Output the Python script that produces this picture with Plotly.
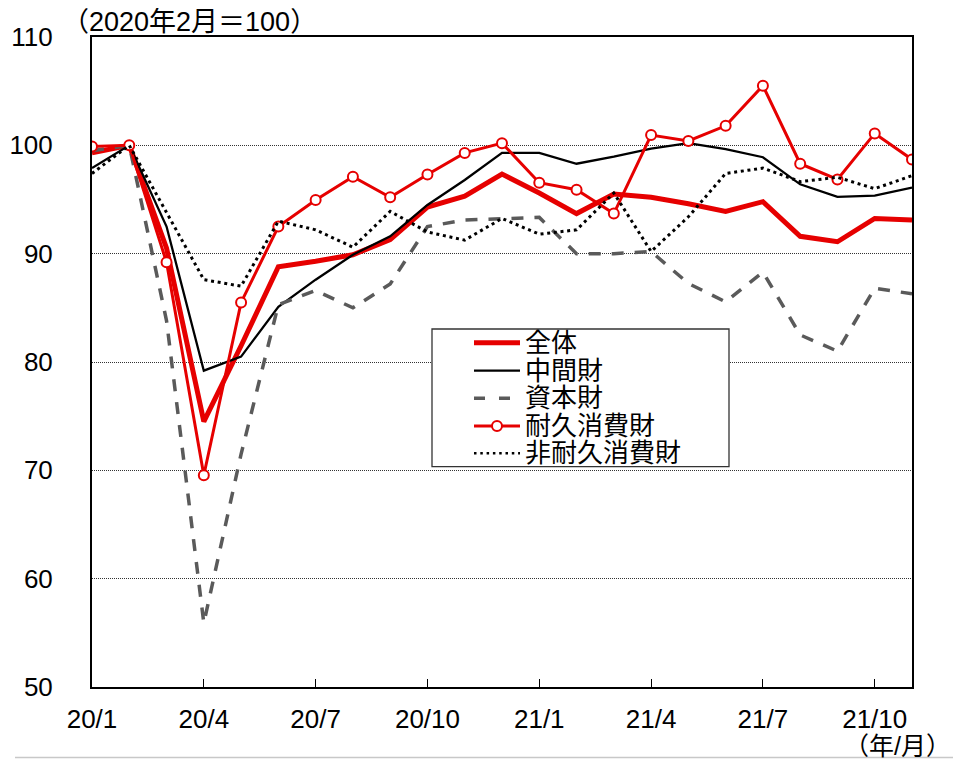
import plotly.graph_objects as go

months = ["20/1","20/2","20/3","20/4","20/5","20/6","20/7","20/8","20/9","20/10","20/11","20/12",
          "21/1","21/2","21/3","21/4","21/5","21/6","21/7","21/8","21/9","21/10","21/11"]
tick_labels = ["20/1","20/4","20/7","20/10","21/1","21/4","21/7","21/10"]

total = [99.3, 100.0, 90.5, 74.5, 81.5, 88.8, 89.3, 89.9, 91.3, 94.3, 95.3, 97.35,
         95.6, 93.7, 95.5, 95.2, 94.6, 93.9, 94.8, 91.6, 91.1, 93.25, 93.1]
intermediate = [97.9, 100.0, 92.5, 79.2, 80.5, 85.1, 87.6, 89.9, 91.6, 94.5, 96.8, 99.3,
                99.3, 98.3, 98.95, 99.7, 100.2, 99.65, 98.9, 96.4, 95.25, 95.35, 96.1]
capital = [99.5, 100.0, 83.8, 55.9, 71.5, 85.3, 86.6, 85.0, 87.2, 92.5, 93.1, 93.2,
           93.35, 90.0, 90.0, 90.2, 87.25, 85.55, 88.3, 82.5, 81.0, 86.8, 86.3]
durable = [99.9, 100.0, 89.2, 69.55, 85.5, 92.5, 94.95, 97.1, 95.2, 97.3, 99.3, 100.2,
           96.55, 95.9, 93.7, 100.95, 100.4, 101.8, 105.5, 98.3, 96.85, 101.1, 98.7]
nondurable = [97.4, 100.0, 93.8, 87.6, 87.0, 93.0, 92.2, 90.6, 93.9, 92.0, 91.25, 93.25,
              91.8, 92.2, 95.6, 90.2, 93.4, 97.4, 97.9, 96.65, 97.05, 96.0, 97.2]

series_names = ["全体", "中間財", "資本財", "耐久消費財", "非耐久消費財"]

RED = "#E60000"
GRAY = "#5A5A5A"
FONT = "Liberation Sans, Arial, Noto Sans CJK JP, sans-serif"

# page body has an 8px margin: figure is placed at (8, 8) in the window
OFF = 8
W, H = 971 - OFF, 759 - OFF
# plot area in window pixels
L0, R0, T0, B0 = 92, 912, 37, 687
L, R, T, B = L0 - OFF, R0 - OFF, T0 - OFF, B0 - OFF

def px(x):
    """window pixel x -> paper coordinate"""
    return (x - L0) / (R0 - L0)

def py(y):
    """window pixel y -> paper coordinate"""
    return (B0 - y) / (B0 - T0)

xs = list(range(len(months)))
tick_idx = [months.index(t) for t in tick_labels]

fig = go.Figure()
fig.add_trace(go.Scatter(x=xs, y=total, mode="lines", name=series_names[0],
                         line=dict(color=RED, width=5), showlegend=False))
fig.add_trace(go.Scatter(x=xs, y=intermediate, mode="lines", name=series_names[1],
                         line=dict(color="black", width=2.3), showlegend=False))
fig.add_trace(go.Scatter(x=xs, y=capital, mode="lines", name=series_names[2],
                         line=dict(color=GRAY, width=3.5, dash="12px,11px"), showlegend=False))
fig.add_trace(go.Scatter(x=xs, y=durable, mode="lines+markers", name=series_names[3],
                         line=dict(color=RED, width=3),
                         marker=dict(size=10, color="white", line=dict(color=RED, width=2)),
                         showlegend=False))
fig.add_trace(go.Scatter(x=xs, y=nondurable, mode="lines", name=series_names[4],
                         line=dict(color="black", width=3, dash="3px,3.7px"), showlegend=False))

shapes = []
annotations = []

# legend box
shapes.append(dict(type="rect", xref="paper", yref="paper",
                   x0=px(432), x1=px(729), y0=py(466.7), y1=py(329),
                   fillcolor="white", line=dict(color="#333333", width=1.3), layer="above"))
rows = [342.7, 370.7, 398.3, 426.0, 453.3]
styles = [dict(color=RED, width=5), dict(color="black", width=2.3),
          dict(color=GRAY, width=3.5, dash="11px,14px"), dict(color=RED, width=3),
          dict(color="black", width=2.5, dash="2.5px,3.8px")]
for ry, st, nm in zip(rows, styles, series_names):
    shapes.append(dict(type="line", xref="paper", yref="paper",
                       x0=px(474), x1=px(520), y0=py(ry), y1=py(ry), line=st, layer="above"))
    annotations.append(dict(text=nm, xref="paper", yref="paper", x=px(523), y=py(ry),
                            xanchor="left", yanchor="middle", showarrow=False,
                            font=dict(family=FONT, size=26, color="black")))
# marker sample for durable
shapes.append(dict(type="circle", xref="paper", yref="paper",
                   x0=px(497 - 5), x1=px(497 + 5), y0=py(426 + 5), y1=py(426 - 5),
                   fillcolor="white", line=dict(color=RED, width=2), layer="above"))

# bottom light line
shapes.append(dict(type="line", xref="paper", yref="paper",
                   x0=px(15), x1=px(953), y0=py(757.5), y1=py(757.5),
                   line=dict(color="#C8C8C8", width=1.5), layer="above"))

annotations.append(dict(text="（2020年2月＝100）", xref="paper", yref="paper",
                        x=px(60), y=py(22), xanchor="left", yanchor="middle", showarrow=False,
                        font=dict(family=FONT, size=27, color="black")))
annotations.append(dict(text="（年/月）", xref="paper", yref="paper",
                        x=px(953), y=py(746), xanchor="right", yanchor="middle", showarrow=False,
                        font=dict(family=FONT, size=25, color="black")))

fig.update_layout(
    width=W, height=H,
    margin=dict(l=L, r=W - R, t=T, b=H - B, pad=0, autoexpand=False),
    paper_bgcolor="white", plot_bgcolor="white",
    showlegend=False,
    shapes=shapes, annotations=annotations,
    xaxis=dict(range=[0, len(months) - 1], tickmode="array", tickvals=tick_idx, ticktext=tick_labels,
               automargin=False,
               showgrid=False, zeroline=False, showline=True, linecolor="black", linewidth=2,
               mirror=True, ticks="inside", ticklen=8, tickwidth=1.3, tickcolor="black",
               tickfont=dict(family=FONT, size=26, color="black"), ticklabelstandoff=8),
    yaxis=dict(range=[50, 110], tickmode="array", tickvals=[50, 60, 70, 80, 90, 100, 110],
               automargin=False,
               showgrid=True, gridcolor="#333333", gridwidth=1, griddash="1px,1px",
               zeroline=False, showline=True, linecolor="black", linewidth=2, mirror=True,
               ticks="", tickfont=dict(family=FONT, size=26, color="black"),
               ticklabelstandoff=32),
)

fig.write_html("out.html")
